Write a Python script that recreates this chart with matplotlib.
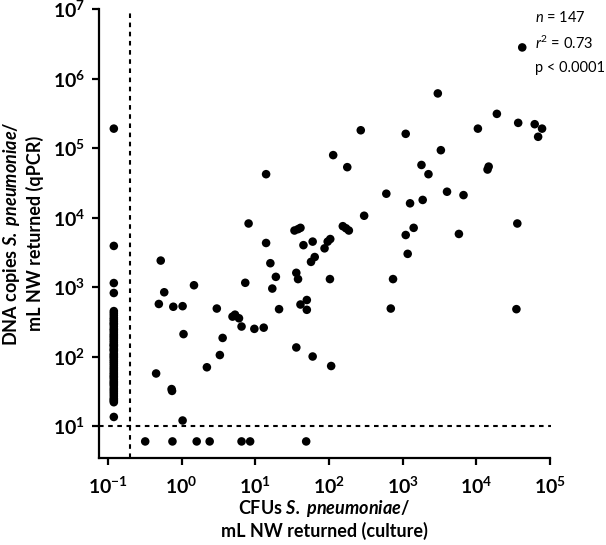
import numpy as np
import matplotlib
matplotlib.use("Agg")
import matplotlib.pyplot as plt
from matplotlib.ticker import NullLocator

plt.rcParams['font.family'] = 'Lato'
plt.rcParams['mathtext.fontset'] = 'custom'
plt.rcParams['mathtext.rm'] = 'Lato'
plt.rcParams['mathtext.it'] = 'Lato:italic'
plt.rcParams['mathtext.bf'] = 'Lato:bold'
plt.rcParams['mathtext.bfit'] = 'Lato:italic:bold'

# samples positive by both culture and qPCR (CFU/mL, DNA copies/mL)
culture_pos = [0.52, 0.49, 0.58, 0.45, 0.73, 0.74, 0.77, 1.03, 1.06, 1.03,
               1.47, 3.0, 2.2, 3.3, 3.6, 4.9, 5.3, 6.0, 6.5, 7.3,
               8.1, 9.7, 13, 14, 16, 19, 17, 21, 34, 38,
               41, 45, 36, 38, 36, 41, 50, 50, 60, 87,
               96, 104, 154, 170, 186, 57, 64, 103, 60, 107,
               300, 1260, 1870, 1100, 1410, 1170, 740, 690, 5800, 36000,
               35000, 42000, 3000, 19000, 37000, 62000, 78000, 69000, 10500, 270,
               1100, 114, 177, 3300, 1800, 2240, 14700, 14200, 600, 4000,
               6700, 14]
qpcr_pos = [2400, 570, 840, 57, 34, 32, 520, 530, 210, 12,
            1060, 490, 70, 105, 185, 375, 400, 355, 270, 1150,
            8200, 250, 260, 4300, 2200, 1400, 950, 480, 6500, 6800,
            7100, 4000, 1600, 1300, 135, 560, 650, 470, 4500, 3600,
            4500, 4900, 7500, 7000, 6500, 2300, 2700, 1300, 100, 73,
            10600, 16000, 17900, 5600, 7100, 3000, 1300, 490, 5800, 8200,
            480, 2.8e6, 6.1e5, 3.1e5, 2.3e5, 2.2e5, 1.9e5, 1.45e5, 1.9e5, 1.8e5,
            1.6e5, 79000, 53000, 93000, 57000, 42000, 54000, 49000, 22000, 23500,
            21000, 42000]

# culture negative, qPCR positive (DNA copies/mL)
qpcr_culture_neg = [1.9e5, 3900, 1140, 820, 13.5,
                    450, 420, 390, 360, 340, 320, 300, 290, 270, 250,
                    240, 225, 210, 200, 190, 180, 170, 160, 150, 145,
                    140, 130, 125, 120, 110, 105, 100, 96, 90, 85,
                    80, 75, 70, 66, 62, 58, 55, 52, 50, 47,
                    44, 42, 40, 38, 35, 33, 31, 29, 27, 25,
                    24, 23, 22]
# culture positive, qPCR negative (CFU/mL)
culture_qpcr_neg = [0.32, 0.75, 1.6, 2.4, 6.5, 8.5, 49]

nd_culture = 0.12   # plotted position for culture negative
nd_qpcr = 6         # plotted position for qPCR negative
culture_cutoff = 0.2
qpcr_cutoff = 10

fig = plt.figure(figsize=(6.06, 5.45), dpi=100)
ax = fig.add_axes([99/606, 1 - 457.7/545, 451/606, 448.7/545])

dot = dict(s=38, color='black', edgecolors='none', clip_on=False, zorder=3)
ax.scatter(culture_pos, qpcr_pos, **dot)
ax.scatter([nd_culture] * len(qpcr_culture_neg), qpcr_culture_neg, **dot)
ax.scatter(culture_qpcr_neg, [nd_qpcr] * len(culture_qpcr_neg), **dot)

ax.set_xscale('log')
ax.set_yscale('log')
ax.set_xlim(0.0755, 1e5)
ax.set_ylim(3.5, 1e7)

ax.axvline(culture_cutoff, color='black', ls=(0, (2.2, 2.2)), lw=1.5, zorder=2)
ax.plot([0.0755, 1.03e5], [qpcr_cutoff, qpcr_cutoff], color='black',
        ls=(0, (2.2, 2.2)), lw=1.5, clip_on=False, zorder=2)

ax.set_yticks([1e1, 1e2, 1e3, 1e4, 1e5, 1e6, 1e7])
ax.set_xticks([1e-1, 1, 1e1, 1e2, 1e3, 1e4, 1e5])
ax.xaxis.set_minor_locator(NullLocator())
ax.yaxis.set_minor_locator(NullLocator())

for s in ['top', 'right']:
    ax.spines[s].set_visible(False)
for s in ['left', 'bottom']:
    ax.spines[s].set_linewidth(1.6)
ax.tick_params(direction='out', length=5, width=1.6, labelsize=14, pad=5)
ax.tick_params(axis='x', pad=8)
for lab in ax.get_xticklabels() + ax.get_yticklabels():
    lab.set_fontweight('bold')

ax.set_xlabel('CFUs $\\mathbfit{S.}$ $\\mathbfit{pneumoniae}$/\nmL NW returned (culture)',
              fontsize=13, fontweight='bold', labelpad=1, linespacing=1.2)
ax.set_ylabel('DNA copies $\\mathbfit{S.}$ $\\mathbfit{pneumoniae}$/\nmL NW returned (qPCR)',
              fontsize=13, fontweight='bold', labelpad=6, linespacing=1.3)

fig.text(535/606, 1 - 18/545, '$\\mathit{n}$ = 147', fontsize=10.5, va='center')
fig.text(535/606, 1 - 43/545, '$\\mathit{r}^2$ = 0.73', fontsize=10.5, va='center')
fig.text(535/606, 1 - 68/545, 'p < 0.0001', fontsize=10.5, va='center')

fig.savefig('out.png', dpi=100)
